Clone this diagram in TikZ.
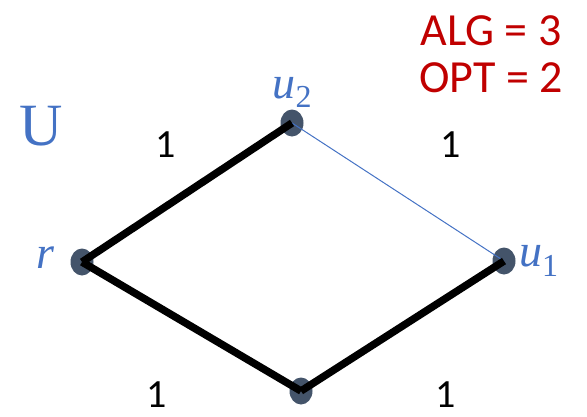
\documentclass[tikz,border=0pt]{standalone}
\usepackage{fontspec}
\setmainfont{Carlito}
\newfontfamily\serifU{Liberation Serif}
\usetikzlibrary{positioning,shapes.geometric}
\definecolor{vertexgray}{RGB}{68, 84, 106}
\definecolor{labelblue}{RGB}{68, 114, 196}
\definecolor{costred}{RGB}{192, 0, 0}
\newcommand{\vname}[2]{{\itshape #1}\raisebox{-0.2em}{\fontsize{32}{34}\selectfont #2}}

\begin{document}
\begin{tikzpicture}[
    x=1pt, y=-1pt,
    every node/.style={align=center},
    vertex/.style={ellipse, fill=vertexgray, inner sep=0pt, minimum width=23pt, minimum height=27pt},
    vlabel/.style={text=labelblue, font=\serifU\fontsize{46}{48}\selectfont},
    weight/.style={font=\fontsize{40}{44}\selectfont},
    cost/.style={text=costred, font=\fontsize{46}{50}\selectfont},
    heavy/.style={line width=7.5pt},
    light/.style={labelblue, line width=1pt}
]
\useasboundingbox (0,0) rectangle (587,416);

% Vertices
\node[vertex] (r) at (82,262) {};
\node[vertex] (u2) at (292,123) {};
\node[vertex] (u1) at (504,261) {};
\node[vertex] (w) at (301,391) {};

% Edges
\draw[light] (u2.center) -- (u1.center);
\draw[heavy] (r.center) -- (u2.center);
\draw[heavy] (r.center) -- (w.center);
\draw[heavy] (w.center) -- (u1.center);

% Labels
\node[vlabel, left=12pt of r] (rlab) {\vname{r}{}};
\node[vlabel, above=-2pt of u2] (u2lab) {\vname{u}{2}};
\node[vlabel, right=0pt of u1] (u1lab) {\vname{u}{1}};
\node[text=labelblue, font=\serifU\fontsize{60}{62}\selectfont] (setU) at (41,126) {U};
\node[weight] (w1) at (166,145) {1};
\node[weight] (w2) at (451,145) {1};
\node[weight] (w3) at (157,395) {1};
\node[weight] (w4) at (446,395) {1};
\node[cost] (alg) at (491,31) {ALG = 3};
\node[cost] (opt) at (491,78) {OPT = 2};

\end{tikzpicture}
\end{document}
